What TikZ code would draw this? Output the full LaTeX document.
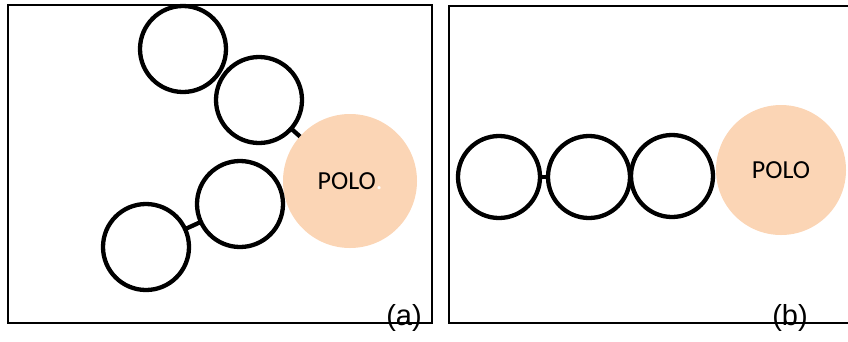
\documentclass[tikz,border=0pt]{standalone}
\usepackage{fontspec}
\setmainfont{Liberation Sans}
\newfontfamily\calib{Carlito}
\definecolor{polofill}{RGB}{251,213,181}
\begin{document}
\begin{tikzpicture}[x=1pt,y=-1pt,
  ring/.style={circle,draw=black,line width=4.3pt,minimum size=#1,inner sep=0pt,outer sep=0pt},
  ring/.default=86pt,
  polo/.style={circle,fill=polofill,minimum size=#1,inner sep=0pt,outer sep=0pt,font=\calib\fontsize{26}{30}\selectfont},
  frame/.style={draw=black,line width=1.5pt},
  stub/.style={line width=4.3pt},
  lab/.style={font=\fontsize{29}{32}\selectfont,inner sep=0pt}]
\useasboundingbox (0,0) rectangle (848,341);
% panel (a)
\draw[frame] (8,5) rectangle (432,323);
\node[polo=134pt] (pa) at (350,181) {POLO\textcolor{white}{.}};
\node[ring] (c1) at (183,49) {};
\node[ring] (c2) at (259,100) {};
\node[ring] (c3) at (240,204) {};
\node[ring] (c4) at (146,247) {};
\draw[stub] (c2) -- (pa);
\draw[stub] (c3) -- (c4);
\node[lab] (la) at (404,318) {(a)};
% panel (b)
\draw[frame] (850,6) -- (449,6) -- (449,323) -- (850,323);
\node[polo=130pt] (pb) at (781,170) {POLO};
\node[ring=82pt] (c5) at (499,177) {};
\node[ring=82pt] (c6) at (589,177) {};
\node[ring=82pt] (c7) at (672,176) {};
\draw[stub] (c5) -- (c6);
\node[lab] (lb) at (790,318) {(b)};
\end{tikzpicture}
\end{document}
